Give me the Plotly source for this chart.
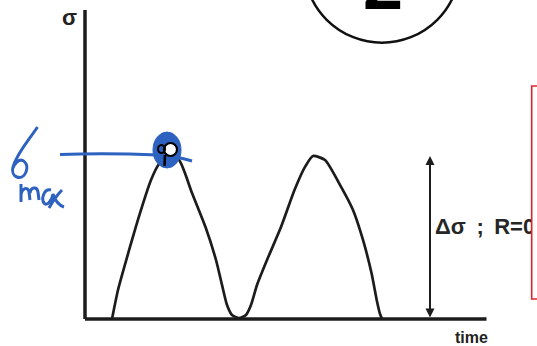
import plotly.graph_objects as go

# Stress history: two load cycles from zero up to sigma_max and back (R = 0)
time = [2.7, 3.3, 4.5, 5.5, 6.6, 7.4, 8.3, 9.4, 10.7, 12.05, 13.1, 13.7, 14.2, 14.7,
        15.4, 16.1, 16.6, 17.2, 18.2, 19.6, 20.95, 22.0, 22.8, 24.0, 25.4, 26.8,
        27.8, 28.65, 29.17, 29.5, 29.7]
sigma = [0.0, 0.178, 0.442, 0.650, 0.853, 0.951, 1.0, 0.975, 0.773, 0.564, 0.362,
         0.209, 0.086, 0.025, 0.006, 0.025, 0.086, 0.209, 0.362, 0.564, 0.791,
         0.933, 1.0, 0.975, 0.834, 0.669, 0.485, 0.282, 0.117, 0.031, 0.0]

sigma_max = 1.0
t_axis_end = 40.15
sigma_axis_end = 1.896
t_range_arrow = 34.5

INK = "#1c1c1c"
PEN = "#2e62c0"

fig = go.Figure()

# load curve
fig.add_trace(go.Scatter(
    x=time, y=sigma, mode="lines",
    line=dict(color=INK, width=2.7, shape="spline", smoothing=0.6),
    hoverinfo="skip", showlegend=False,
))

# stress-range label next to the double arrow
fig.add_trace(go.Scatter(
    x=[35.0], y=[0.558], mode="text",
    text=["Δσ\u2009 ;\u2009 R=0"],
    textposition="middle right",
    textfont=dict(family="Liberation Sans, Arial", size=22, color="#262626", weight="bold"),
    hoverinfo="skip", showlegend=False,
))

# empty trace so the page-unit overlay axes exist
fig.add_trace(go.Scatter(x=[None], y=[None], xaxis="x2", yaxis="y2",
                         showlegend=False, hoverinfo="skip"))

shapes = []
# axes of the sketch
shapes.append(dict(type="line", xref="x", yref="y", x0=0, y0=0, x1=0, y1=sigma_axis_end,
                   line=dict(color=INK, width=3.5)))
shapes.append(dict(type="line", xref="x", yref="y", x0=0, y0=0, x1=t_axis_end, y1=0,
                   line=dict(color=INK, width=3.5)))

# page elements: numbered circle and the framed box at the right edge
shapes.append(dict(type="circle", xref="x2", yref="y2", x0=303.8, x1=460.2,
                   y0=-113.7, y1=42.7, line=dict(color="#111111", width=2.5)))
shapes.append(dict(type="rect", xref="x2", yref="y2", x0=531.7, x1=548, y0=86, y1=299,
                   line=dict(color="#e0242b", width=1.6), fillcolor="white", layer="above"))

# handwritten sigma_max marker
pen = dict(color=PEN, width=3)
shapes.append(dict(type="path", xref="x2", yref="y2", layer="above", line=pen,
                   path="M60,154.5 C90,153.3 125,153.5 158,155"))
shapes.append(dict(type="path", xref="x2", yref="y2", layer="above", line=pen,
                   path="M176,157 Q185,159 192,161"))
shapes.append(dict(type="circle", xref="x2", yref="y2", layer="above", x0=153, x1=181,
                   y0=132, y1=168, fillcolor=PEN, line=dict(color=PEN, width=1)))
shapes.append(dict(type="circle", xref="x2", yref="y2", layer="above", x0=164, x1=177,
                   y0=143, y1=156, fillcolor="white", line=dict(color="black", width=2.2)))
shapes.append(dict(type="circle", xref="x2", yref="y2", layer="above", x0=158, x1=165,
                   y0=145, y1=153, line=dict(color="black", width=2)))
shapes.append(dict(type="path", xref="x2", yref="y2", layer="above",
                   line=dict(color="black", width=2.6), path="M165,155 L164.5,166"))
# "σ" written by hand
shapes.append(dict(type="path", xref="x2", yref="y2", layer="above", line=pen,
                   path="M37.5,127 C29,140 17,153 13,167 C10,177 22,182 26,172 "
                        "C29,164 23,157 17,162 C14,165 13,168 13,168"))
# "max" written by hand
shapes.append(dict(type="path", xref="x2", yref="y2", layer="above", line=pen,
                   path="M21,184 L21,202 M21,195 C22,188 28,186 29,192 L30,200 "
                        "M30,193 C31,187 37,186 38,192 L39,200"))
shapes.append(dict(type="path", xref="x2", yref="y2", layer="above", line=pen,
                   path="M51,190 C44,188 41,199 44,203 C47,207 52,200 53,194 "
                        "C55,200 58,205 64,207 M62,190 C57,195 53,201 49,208"))

annotations = [
    # double arrow spanning the stress range
    dict(x=t_range_arrow, y=sigma_max, ax=t_range_arrow, ay=0, xref="x", yref="y",
         axref="x", ayref="y", text="", showarrow=True, arrowside="end+start",
         arrowhead=2, arrowsize=0.9, arrowwidth=2, arrowcolor=INK),
    dict(x=-1.6, y=1.85, xref="x", yref="y", text="<b>σ</b>", showarrow=False,
         font=dict(family="Liberation Sans, Arial", size=22, color="#222222")),
    dict(x=38.65, y=-0.1135, xref="x", yref="y", text="<b>time</b>", showarrow=False,
         font=dict(family="Liberation Sans, Arial", size=16, color="#222222")),
    # number inside the circle, mostly above the page top
    dict(x=382.5 / 537, y=1 + 16.3 / 346, xref="paper", yref="paper", text="<b>2</b>",
         showarrow=False, yanchor="middle", xanchor="center",
         font=dict(family="Liberation Sans, Arial", size=72, color="#000000")),
]

fig.update_layout(
    width=537, height=346,
    margin=dict(l=0, r=0, t=0, b=0),
    paper_bgcolor="white", plot_bgcolor="white",
    xaxis=dict(range=[-8.5, 45.2], visible=False, fixedrange=True),
    yaxis=dict(range=[-0.1656, 1.957], visible=False, fixedrange=True),
    xaxis2=dict(range=[0, 537], visible=False, overlaying="x", anchor="y2"),
    yaxis2=dict(range=[346, 0], visible=False, overlaying="y", anchor="x2"),
    shapes=shapes, annotations=annotations, showlegend=False,
)

fig.write_html("out.html")
